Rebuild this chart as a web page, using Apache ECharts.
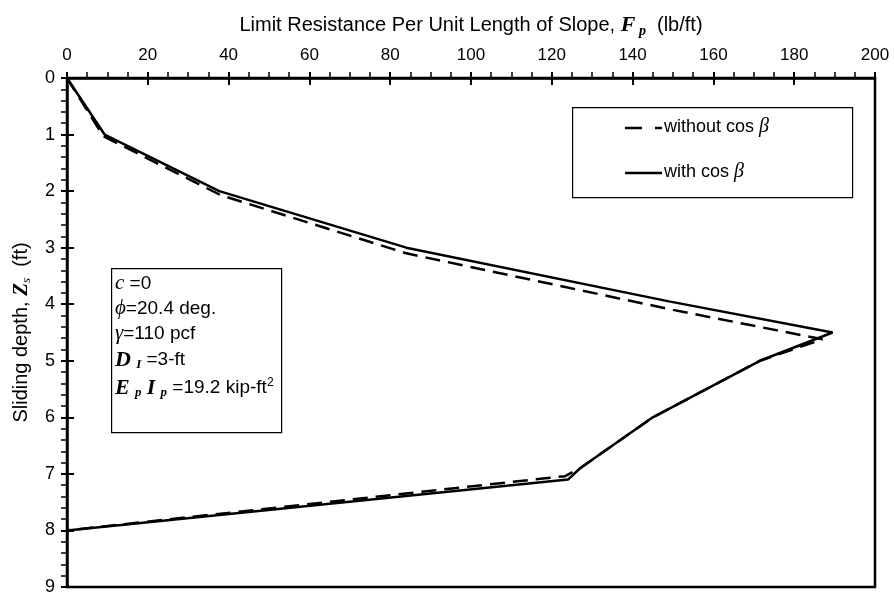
<!DOCTYPE html>
<html><head><meta charset="utf-8">
<script src="https://cdn.jsdelivr.net/npm/echarts@6/dist/echarts.min.js"></script>
<style>html,body{margin:0;padding:0;background:#fff}#c{width:894px;height:596px}</style>
</head><body><div id="c"></div>
<script>
// Data
const withCosX    = [0, 9.3, 37.7, 84, 149, 189.5, 171.5, 145, 127, 124, 0];
const withCosY    = [0, 1.0, 2.0, 3.0, 3.95, 4.5, 5.0, 6.0, 6.9, 7.1, 8.0];
const withoutCosX = [0, 9.0, 38.0, 84, 150, 187, 171.5, 145, 127, 123.3, 0];
const withoutCosY = [0, 1.03, 2.07, 3.1, 4.1, 4.62, 5.0, 6.0, 6.9, 7.04, 8.0];
const xTicks = [0, 20, 40, 60, 80, 100, 120, 140, 160, 180, 200];
const yTicks = [0, 1, 2, 3, 4, 5, 6, 7, 8, 9];
const seriesNames = ['without cos β', 'with cos β'];

const FONT = '"Liberation Sans Narrow", "Arial Narrow", "Liberation Sans", Arial, sans-serif';
const SERIF = '"Liberation Serif", "Times New Roman", serif';
const pairs = (xs, ys) => xs.map((x, i) => [x, ys[i]]);

const chart = echarts.init(document.getElementById('c'), null, {renderer: 'canvas'});
const axisBase = {
  type: 'value', min: xTicks[0], max: xTicks[xTicks.length - 1], interval: 20
};
const legendRows = [
  {name: seriesNames[0], y: 128, dash: [17, 13]},
  {name: seriesNames[1], y: 173, dash: null}
];
const legendGraphics = [
  {type: 'rect', left: 572, top: 107, shape: {width: 280, height: 90}, z: 10,
   style: {fill: '#fff', stroke: '#000', lineWidth: 1.2}}
];
legendRows.forEach(r => {
  legendGraphics.push({type: 'line', z: 11,
    shape: {x1: 625, y1: r.y, x2: 662, y2: r.y},
    style: {stroke: '#000', lineWidth: 2.5, lineDash: r.dash || null}});
  legendGraphics.push({type: 'text', left: 664, top: r.y - 11, z: 11,
    style: {text: r.name.replace('β', '{b|β}'), font: '18px ' + FONT, fill: '#000',
      rich: {b: {fontFamily: SERIF, fontStyle: 'italic', fontSize: 20}}}});
});

chart.setOption({
  animation: false,
  backgroundColor: '#fff',
  grid: {left: 67, right: 19, top: 78, bottom: 7, show: true, borderColor: '#000', borderWidth: 2.5, backgroundColor: 'transparent'},
  xAxis: [
    Object.assign({}, axisBase, {
      position: 'top',
      name: 'Limit Resistance Per Unit Length of Slope, {i|F}{sub| p}  (lb/ft)',
      nameLocation: 'middle', nameGap: 40,
      nameTextStyle: {fontFamily: FONT, fontSize: 20, color: '#000',
        rich: {i: {fontFamily: SERIF, fontStyle: 'italic', fontWeight: 'bold', fontSize: 22, color: '#000'},
               sub: {fontFamily: SERIF, fontStyle: 'italic', fontWeight: 'bold', fontSize: 14, color: '#000', padding: [11, 0, 0, 0]}}},
      axisLine: {show: true, lineStyle: {color: '#000', width: 2.5}},
      axisTick: {show: true, inside: false, length: 6, lineStyle: {color: '#000', width: 2}},
      minorTick: {show: true, splitNumber: 4, length: 6, lineStyle: {color: '#000', width: 1.5}},
      axisLabel: {show: true, color: '#000', fontFamily: FONT, fontSize: 17, margin: 14,
        formatter: v => xTicks.includes(v) ? String(v) : ''},
      splitLine: {show: false}
    }),
    Object.assign({}, axisBase, {
      position: 'top',
      axisLine: {show: false},
      axisTick: {show: true, inside: true, length: 7, lineStyle: {color: '#000', width: 2}},
      axisLabel: {show: false}, splitLine: {show: false}
    })
  ],
  yAxis: [
    {
      type: 'value', min: yTicks[0], max: yTicks[yTicks.length - 1], interval: 1, inverse: true,
      position: 'left',
      name: 'Sliding depth, {i|Z}{sub|s}  (ft)',
      nameLocation: 'middle', nameGap: 34, nameRotate: 90,
      nameTextStyle: {fontFamily: FONT, fontSize: 20, color: '#000',
        rich: {i: {fontFamily: SERIF, fontStyle: 'italic', fontWeight: 'bold', fontSize: 21, color: '#000'},
               sub: {fontFamily: SERIF, fontStyle: 'italic', fontSize: 13, color: '#000', padding: [10, 0, 0, 0]}}},
      axisLine: {show: true, lineStyle: {color: '#000', width: 2.5}},
      axisTick: {show: true, inside: false, length: 6, lineStyle: {color: '#000', width: 2}},
      minorTick: {show: true, splitNumber: 5, length: 6, lineStyle: {color: '#000', width: 1.5}},
      axisLabel: {show: true, color: '#000', fontFamily: FONT, fontSize: 18, margin: 12,
        formatter: v => yTicks.includes(v) ? String(v) : ''},
      splitLine: {show: false}
    },
    {
      type: 'value', min: yTicks[0], max: yTicks[yTicks.length - 1], interval: 1, inverse: true,
      position: 'left',
      axisLine: {show: false},
      axisTick: {show: true, inside: true, length: 7, lineStyle: {color: '#000', width: 2}},
      axisLabel: {show: false}, splitLine: {show: false}
    }
  ],
  series: [
    {name: seriesNames[0], type: 'line', symbol: 'none', data: pairs(withoutCosX, withoutCosY),
     lineStyle: {color: '#000', width: 2.5, type: [15, 8]}, itemStyle: {color: '#000'}, z: 2},
    {name: seriesNames[1], type: 'line', symbol: 'none', data: pairs(withCosX, withCosY),
     lineStyle: {color: '#000', width: 2.5, type: 'solid'}, itemStyle: {color: '#000'}, z: 3}
  ],
  graphic: legendGraphics.concat([
    {type: 'rect', left: 111, top: 268, shape: {width: 170, height: 164}, z: 10,
     style: {fill: '#fff', stroke: '#000', lineWidth: 1.2}},
    {type: 'text', left: 115, top: 271, z: 11,
     style: {
       text: '{v|c} =0\n{v|\u03D5}=20.4 deg.\n{v|γ}=110 pcf\n{b|D} {s|I} =3-ft\n{b|E} {s|p} {b|I} {s|p} =19.2 kip-ft{sup|2}',
       font: '19px ' + FONT, fill: '#000', lineHeight: 25,
       rich: {
         v: {fontFamily: SERIF, fontStyle: 'italic', fontSize: 21, lineHeight: 25},
         b: {fontFamily: SERIF, fontStyle: 'italic', fontWeight: 'bold', fontSize: 22, lineHeight: 28},
         s: {fontFamily: SERIF, fontStyle: 'italic', fontWeight: 'bold', fontSize: 13, padding: [10, 0, 0, 0]},
         sup: {fontFamily: FONT, fontSize: 12, padding: [0, 0, 10, 0]}
       }
     }}
  ])
});
</script></body></html>
